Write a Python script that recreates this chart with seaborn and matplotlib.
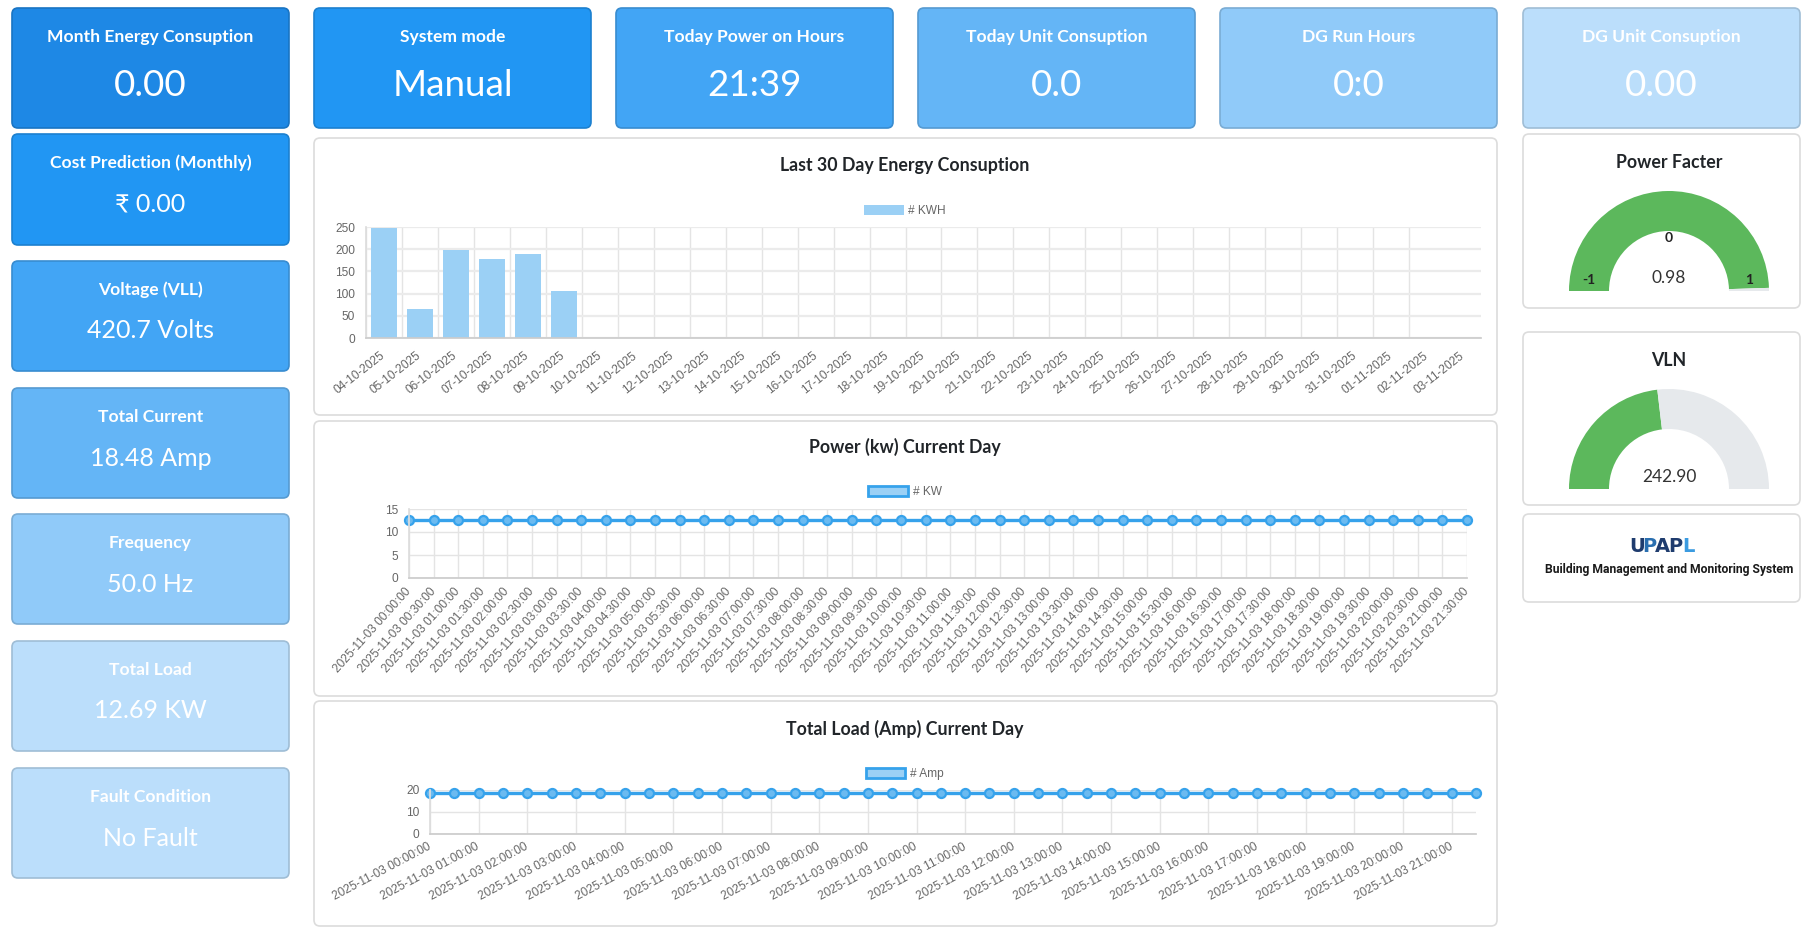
import numpy as np
import pandas as pd
import matplotlib
matplotlib.use('Agg')
import matplotlib.pyplot as plt
import matplotlib.colors as mcolors
from matplotlib.patches import FancyBboxPatch, Wedge, Patch
import seaborn as sns

# ---- dados ----
top_titles = ['Month Energy Consuption', 'System mode', 'Today Power on Hours',
              'Today Unit Consuption', 'DG Run Hours', 'DG Unit Consuption']
top_values = ['0.00', 'Manual', '21:39', '0.0', '0:0', '0.00']

side_titles = ['Cost Prediction (Monthly)', 'Voltage (VLL)', 'Total Current',
               'Frequency', 'Total Load', 'Fault Condition']
side_values = ['₹ 0.00', '420.7 Volts', '18.48 Amp', '50.0 Hz', '12.69 KW', 'No Fault']

kwh_dates = ['04-10-2025', '05-10-2025', '06-10-2025', '07-10-2025', '08-10-2025',
             '09-10-2025', '10-10-2025', '11-10-2025', '12-10-2025', '13-10-2025',
             '14-10-2025', '15-10-2025', '16-10-2025', '17-10-2025', '18-10-2025',
             '19-10-2025', '20-10-2025', '21-10-2025', '22-10-2025', '23-10-2025',
             '24-10-2025', '25-10-2025', '26-10-2025', '27-10-2025', '28-10-2025',
             '29-10-2025', '30-10-2025', '31-10-2025', '01-11-2025', '02-11-2025',
             '03-11-2025']
kwh_values = [248, 66, 199, 178, 189, 106, 0, 0, 0, 0,
              0, 0, 0, 0, 0, 0, 0, 0, 0, 0,
              0, 0, 0, 0, 0, 0, 0, 0, 0, 0,
              0]

day_times = ['2025-11-03 00:00:00', '2025-11-03 00:30:00', '2025-11-03 01:00:00', '2025-11-03 01:30:00',
             '2025-11-03 02:00:00', '2025-11-03 02:30:00', '2025-11-03 03:00:00', '2025-11-03 03:30:00',
             '2025-11-03 04:00:00', '2025-11-03 04:30:00', '2025-11-03 05:00:00', '2025-11-03 05:30:00',
             '2025-11-03 06:00:00', '2025-11-03 06:30:00', '2025-11-03 07:00:00', '2025-11-03 07:30:00',
             '2025-11-03 08:00:00', '2025-11-03 08:30:00', '2025-11-03 09:00:00', '2025-11-03 09:30:00',
             '2025-11-03 10:00:00', '2025-11-03 10:30:00', '2025-11-03 11:00:00', '2025-11-03 11:30:00',
             '2025-11-03 12:00:00', '2025-11-03 12:30:00', '2025-11-03 13:00:00', '2025-11-03 13:30:00',
             '2025-11-03 14:00:00', '2025-11-03 14:30:00', '2025-11-03 15:00:00', '2025-11-03 15:30:00',
             '2025-11-03 16:00:00', '2025-11-03 16:30:00', '2025-11-03 17:00:00', '2025-11-03 17:30:00',
             '2025-11-03 18:00:00', '2025-11-03 18:30:00', '2025-11-03 19:00:00', '2025-11-03 19:30:00',
             '2025-11-03 20:00:00', '2025-11-03 20:30:00', '2025-11-03 21:00:00', '2025-11-03 21:30:00']
kw_values = [12.7, 12.7, 12.7, 12.7, 12.7, 12.7, 12.7, 12.7, 12.7, 12.7, 12.7,
             12.7, 12.7, 12.7, 12.7, 12.7, 12.7, 12.7, 12.7, 12.7, 12.7, 12.7,
             12.7, 12.7, 12.7, 12.7, 12.7, 12.7, 12.7, 12.7, 12.7, 12.7, 12.7,
             12.7, 12.7, 12.7, 12.7, 12.7, 12.7, 12.7, 12.7, 12.7, 12.7, 12.7]
amp_values = [18.5, 18.5, 18.5, 18.5, 18.5, 18.5, 18.5, 18.5, 18.5, 18.5, 18.5,
              18.5, 18.5, 18.5, 18.5, 18.5, 18.5, 18.5, 18.5, 18.5, 18.5, 18.5,
              18.5, 18.5, 18.5, 18.5, 18.5, 18.5, 18.5, 18.5, 18.5, 18.5, 18.5,
              18.5, 18.5, 18.5, 18.5, 18.5, 18.5, 18.5, 18.5, 18.5, 18.5, 18.5]

pf_value, pf_min, pf_max = 0.98, -1, 1
vln_value, vln_min, vln_max = 242.90, 0, 525

# ---- layout ----
W, H = 1809, 934
sns.set_theme(style='white')
plt.rcParams['font.family'] = ['Lato', 'DejaVu Sans']

fig = plt.figure(figsize=(W / 100, H / 100), dpi=100)
bg = fig.add_axes([0, 0, 1, 1])
bg.set_xlim(0, W)
bg.set_ylim(H, 0)
bg.axis('off')


def px_axes(x0, y0, x1, y1):
    ax = fig.add_axes([x0 / W, 1 - y1 / H, (x1 - x0) / W, (y1 - y0) / H])
    ax.set_facecolor('none')
    return ax


def darker(c, f=0.85):
    r, g, b = mcolors.to_rgb(c)
    return (r * f, g * f, b * f)


def painel(x0, y0, x1, y1, fc='white', ec='#dcdcdc'):
    bg.add_patch(FancyBboxPatch((x0, y0), x1 - x0, y1 - y0,
                                boxstyle='round,pad=0,rounding_size=6',
                                fc=fc, ec=ec, lw=1.2))


def card(x0, y0, x1, y1, fc, titulo, valor, ty, vy, vsize):
    painel(x0, y0, x1, y1, fc=fc, ec=darker(fc))
    cx = (x0 + x1) / 2
    bg.text(cx, y0 + ty, titulo, color='white', fontsize=12.6, fontweight='bold',
            ha='center', va='center')
    bg.text(cx, y0 + vy, valor, color='white', fontsize=vsize,
            ha='center', va='center')


# cards de cima
top_x = [(12, 289), (314, 591), (616, 893), (918, 1195), (1220, 1497), (1523, 1800)]
top_colors = ['#1E88E5', '#2196F3', '#42A5F5', '#64B5F6', '#90CAF9', '#BBDEFB']
for (x0, x1), c, t, v in zip(top_x, top_colors, top_titles, top_values):
    card(x0, 8, x1, 128, c, t, v, 29, 77, 26.5)

# cards da esquerda
side_y = [(134, 245), (261, 371), (388, 498), (514, 624), (641, 751), (768, 878)]
side_colors = ['#2196F3', '#42A5F5', '#64B5F6', '#90CAF9', '#BBDEFB', '#BBDEFB']
for (y0, y1), c, t, v in zip(side_y, side_colors, side_titles, side_values):
    card(12, y0, 289, y1, c, t, v, 29, 70, 18)

# paineis dos graficos
painel(314, 138, 1497, 415)
painel(314, 421, 1497, 696)
painel(314, 701, 1497, 926)
painel(1523, 134, 1800, 308)
painel(1523, 332, 1800, 505)
painel(1523, 514, 1800, 602)

TITLE_KW = dict(fontsize=12.8, fontweight='bold', color='#212529', ha='center',
                va='center')
bg.text(905, 166, 'Last 30 Day Energy Consuption', **TITLE_KW)
bg.text(905, 447, 'Power (kw) Current Day', **TITLE_KW)
bg.text(905, 729, 'Total Load (Amp) Current Day', **TITLE_KW)

BLUE = '#36A2EB'
BLUE_L = '#9BD0F5'
GRID = '#e4e4e4'
TICK = 5.76
TICK_FONT = dict(family=['Liberation Sans', 'DejaVu Sans'], size=8.6)


def estilo(ax):
    for s in ['top', 'right']:
        ax.spines[s].set_visible(False)
    ax.spines['left'].set_color('#dddddd')
    ax.spines['bottom'].set_color('#cccccc')
    ax.set_xlabel('')
    ax.set_ylabel('')
    ax.tick_params(axis='y', length=TICK, color=GRID, pad=2, labelcolor='#666666')
    for lab in ax.get_yticklabels():
        lab.set_fontproperties(TICK_FONT)


def legenda(ax, label, y, borda):
    h = Patch(fc=BLUE_L, ec=BLUE if borda else 'none', lw=2 if borda else 0, label=label)
    ax.legend(handles=[h], loc='center', bbox_to_anchor=(905 / W, 1 - y / H),
              bbox_transform=fig.transFigure, frameon=False, handlelength=3.3,
              handleheight=1.0, handletextpad=0.4, labelcolor='#666666',
              prop=TICK_FONT)


# ---- grafico de barras ----
df_kwh = pd.DataFrame({'data': kwh_dates, 'kwh': kwh_values})
ax1 = px_axes(366, 227, 1481, 338)
sns.barplot(data=df_kwh, x='data', y='kwh', ax=ax1, color=BLUE_L, saturation=1,
            width=0.72, edgecolor='none')
n = len(kwh_dates)
ax1.set_xlim(-0.5, n - 0.5)
ax1.set_ylim(0, 250)
ax1.set_yticks([0, 50, 100, 150, 200, 250])
ax1.set_xticks(np.arange(n))
ax1.set_xticklabels(kwh_dates)
ax1.set_xticks(np.arange(n - 1) - 0.5, minor=True)
ax1.grid(axis='y', which='major', color='#ebebeb', lw=1.6)
ax1.grid(axis='x', which='minor', color=GRID, lw=1)
ax1.grid(axis='x', which='major', visible=False)
ax1.tick_params(axis='x', which='major', length=0, pad=12, labelcolor='#666666')
ax1.tick_params(axis='x', which='minor', length=TICK, color=GRID)
estilo(ax1)
for lab in ax1.get_xticklabels():
    lab.set_fontproperties(TICK_FONT)
    lab.set_rotation(38)
    lab.set_ha('right')
    lab.set_va('center')
    lab.set_rotation_mode('anchor')
legenda(ax1, '# KWH', 211, False)


# ---- graficos de linha ----
def linha(box, valores, ymax, yticks, passo, rot, leg_y, label):
    df = pd.DataFrame({'hora': day_times, 'v': valores})
    ax = px_axes(*box)
    sns.lineplot(data=df, x='hora', y='v', ax=ax, color=BLUE, lw=2.4, marker='o',
                 markersize=6.5, markerfacecolor='#6BBAF0', markeredgecolor=BLUE,
                 markeredgewidth=1.6, clip_on=False, sort=False)
    m = len(day_times)
    ax.set_xlim(0, m - 1)
    ax.set_ylim(0, ymax)
    ax.set_yticks(yticks)
    pos = np.arange(0, m, passo)
    ax.set_xticks(pos)
    ax.set_xticklabels([day_times[i] for i in pos])
    ax.grid(axis='both', color=GRID, lw=1)
    ax.tick_params(axis='x', length=TICK, color=GRID, pad=3, labelcolor='#666666')
    estilo(ax)
    for lab in ax.get_xticklabels():
        lab.set_fontproperties(TICK_FONT)
        lab.set_rotation(rot)
        lab.set_ha('right')
        lab.set_va('center')
        lab.set_rotation_mode('anchor')
    legenda(ax, label, leg_y, True)
    return ax


linha((409, 509, 1467, 578), kw_values, 15, [0, 5, 10, 15], 1, 48, 492, '# KW')
linha((430, 790, 1476, 834), amp_values, 20, [0, 10, 20], 2, 28, 774, '# Amp')


# ---- gauges ----
GREEN = '#5CB85C'
GRAY = '#E6E9EC'


def gauge(cx, cy, frac, r=100, w=40):
    a = 180 + 180 * frac
    bg.add_patch(Wedge((cx, cy), r, 180, a, width=w, fc=GREEN, ec='none'))
    bg.add_patch(Wedge((cx, cy), r, a, 360, width=w, fc=GRAY, ec='none'))


gauge(1669, 291, (pf_value - pf_min) / (pf_max - pf_min))
bg.text(1669, 162, 'Power Facter', **TITLE_KW)
bg.text(1669, 238, '0', fontsize=10, fontweight='bold', color='#222222', ha='center', va='center')
bg.text(1589, 280, '-1', fontsize=10, fontweight='bold', color='#222222', ha='center', va='center')
bg.text(1749, 280, '1', fontsize=10, fontweight='bold', color='#222222', ha='center', va='center')
bg.text(1669, 278, f'{pf_value:.2f}', fontsize=12.5, color='#333333', ha='center', va='center')

gauge(1669, 489, (vln_value - vln_min) / (vln_max - vln_min))
bg.text(1669, 361, 'VLN', **TITLE_KW)
bg.text(1669, 477, f'{vln_value:.2f}', fontsize=12.5, color='#333333', ha='center', va='center')

# logo
logo_cores = ['#1F3C6E', '#2A6FB0', '#1F3C6E', '#1F3C6E', '#3B9BE0']
for i, (ch, c) in enumerate(zip('UPAPL', logo_cores)):
    bg.text(1637 + i * 12.8, 547, ch, fontsize=14, fontweight='heavy', color=c,
            ha='center', va='center', family=['DejaVu Sans'])
bg.text(1669, 570, 'Building Management and Monitoring System', fontsize=8.7,
        fontweight='bold', color='#1a1a1a', ha='center', va='center',
        family=['Roboto', 'Liberation Sans', 'DejaVu Sans'])

fig.savefig('out.png', dpi=100, facecolor='white')
